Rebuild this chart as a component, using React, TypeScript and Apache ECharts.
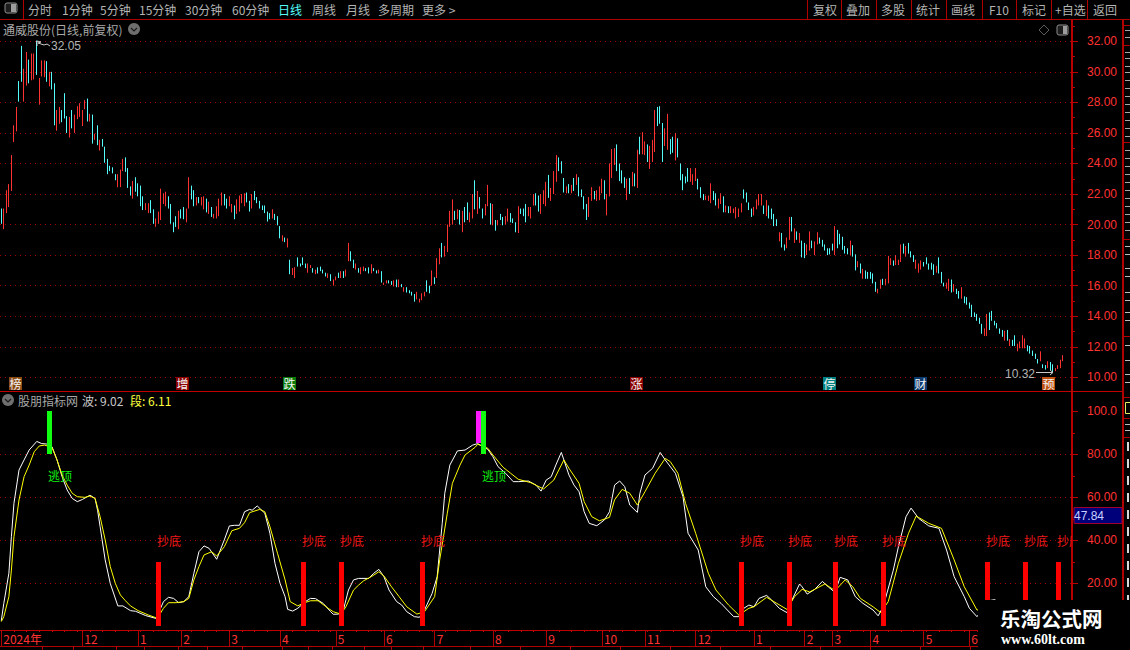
import React, { useEffect, useRef } from "react";
import * as echarts from "echarts";

// ---------- daily bars ----------
const barHigh: number[] = [
  21.05,21.05,22.25,22.65,24.55,26.5,27.7,29.4,31.7,30.2,
  31.3,30.8,31.2,31.2,32.05,29.6,30.75,30.75,30.7,30,
  30,29.25,27.5,27.7,27.5,28.6,27.1,27.05,27.5,27.2,
  27.75,27.95,27.5,28.15,28.25,27.25,27.2,25.95,26.5,25.55,
  25.6,25.1,24.3,23.85,23.75,23.3,23.3,23.6,24.3,24.4,
  23.7,22.5,22.85,23.1,22.7,22.55,21.85,21.4,21.4,21.6,
  21,20.4,20.85,22.35,22.05,22.15,21.85,21.35,20.15,20.55,
  20.9,21,21.15,21.05,23.1,22.55,22.25,21.8,21.8,21.8,
  21.85,21.7,21.5,21.15,20.7,21.2,21.7,22.1,22,21.7,
  21.85,21.35,21.25,21.65,21.9,22,22.05,22.1,21.55,22,
  22.2,21.8,21.55,21.25,21.25,20.85,20.75,21,20.7,20.55,
  19.9,19.3,19.15,19.1,17.7,17.15,17.2,17.85,17.45,17.85,
  17.45,17.45,17.35,17.15,17.05,17.2,17.25,17.05,16.85,16.8,
  16.75,16.4,16.6,16.85,16.95,16.95,17.05,18.8,18.25,17.7,
  17.45,17.15,17.2,17.25,17.15,17.2,17.4,17.15,17,17.05,
  16.95,16.2,16.35,16.35,16.3,16.35,16.4,16.4,
  16.1,15.9,15.9,15.7,15.6,15.45,15.6,15.15,15.5,15.6,
  16.35,16,17,16.55,17.8,18.45,18.8,18.6,20,20.9,
  21.65,20.9,21,20.95,20.9,21.15,21.45,20.8,22,22.9,
  22.2,21.8,21.05,21.35,22.6,21.4,21.35,20.3,20.3,20.7,
  20.5,20.55,21.05,20.75,20.4,20.15,21.2,21.05,21.05,21.35,
  21.15,21.15,22,22.05,21.9,22,22.25,22.8,23.25,22.4,
  23.5,24.55,24.4,24.15,23.05,22.5,22.65,22.6,23.05,23.3,
  23.1,22.3,21.85,21.35,21.8,22.45,22.2,22.25,22.5,23,
  22.9,22,24,24.95,25,25.25,24,23.55,23.1,23,
  23.05,23.45,23.35,24.9,25.75,26.05,25.45,25.25,25.15,25.55,
  27.5,27.7,27.75,26.65,26.3,27.25,25.6,25.75,26,25.65,
  24,23.3,23.15,23.7,23.7,23.3,23.7,23,22.45,22,
  21.9,21.9,22.7,22.2,22.05,21.7,22.05,21.85,21.25,21.2,
  21.2,21.05,21.15,21.05,21.4,22.3,22.1,21.45,21.05,21.15,
  21.65,22,22,21.25,21.6,21.25,21.05,20.7,20.35,19.5,
  19.45,18.7,19.15,20.5,20.5,19.75,19.55,19.45,
  18.95,18.8,18.7,19.55,18.95,18.9,19.5,19.15,19,18.7,
  18.45,18.45,18.75,19.9,19.65,19.4,19.2,18.6,18.45,18.95,
  18.65,18.05,17.6,17.45,17.1,17,16.9,16.9,16.8,16.25,
  15.8,16.4,16.45,16.45,17.95,17.8,17.65,18,17.7,18.7,
  18.75,18.6,18.8,18.25,18,17.7,17.45,17.65,17.55,17.85,
  17.45,17.5,17.4,17.3,17.85,16.9,16.2,16.2,16.45,16.4,
  16.1,15.8,15.65,15.9,15.3,15.25,14.9,14.75,14.25,14.15,
  13.9,13.5,13.2,14.15,14.25,14.35,13.7,13.55,13.2,13.1,
  13.05,13.1,12.5,12.45,12.75,12.2,12.35,12.75,12.55,12.1,
  12.05,11.75,11.55,11.2,11.7,10.85,10.8,11.05,11,10.85,
  10.6,10.8,11.15,11.45,
];
const barLow: number[] = [
  20.05,19.7,20.75,21.15,22.2,25.4,26.1,28.05,29.35,28.05,
  29.1,29.25,29.45,29.5,29.8,27.85,29.7,29.65,29.35,29.05,
  28.85,26.5,26.15,26.6,26.7,26.95,26,25.7,26.3,26,
  26.9,27.05,26.45,27.55,26.75,26.75,25.3,25.55,25.2,24.85,
  25.1,24.05,23.3,23.5,23.35,22.9,22.45,22.45,23.5,23.45,
  22.4,21.9,21.7,22.15,21.85,21.2,20.95,20.95,20.75,20.75,
  20.05,19.85,20.05,20.3,21.35,21.2,21.05,20.05,19.5,19.85,
  19.7,20.4,20.35,20.15,21.05,21.65,21.2,21.25,21.4,21.25,
  21,20.8,20.7,20.5,20.4,20.4,20.55,21.25,21.25,21.05,
  21.2,20.8,20.35,20.7,20.85,21.4,21.2,21.45,20.85,21.05,
  21.6,21.4,21.05,20.95,20.75,20.2,20.35,20.4,20.3,19.95,
  19.1,18.9,18.85,18.5,16.75,16.7,16.5,17.25,17.25,17.35,
  17.15,16.85,17.15,16.85,16.75,16.8,16.95,16.8,16.6,16.5,
  16.3,16,16.35,16.5,16.5,16.5,16.6,17.6,17.6,17.15,
  17.05,16.85,16.75,16.95,16.95,16.8,16.8,16.95,16.8,16.8,
  16.2,16.05,16.15,16.15,16.05,15.95,15.9,15.9,
  15.9,15.6,15.55,15.5,15.35,14.95,15.1,14.9,15.05,15.3,
  15.6,15.5,16,16.1,16.5,17.4,17.85,17.9,18.2,19.85,
  20,20.3,20.35,20,19.5,20.15,20.3,20.15,20.4,21,
  20.7,21.05,20.4,20.6,21.2,20,19.95,19.6,19.95,20.3,
  19.95,20,20.2,20.15,20.1,19.5,19.45,20.7,20.55,20.15,
  20.55,20.4,21.25,21.25,20.85,20.7,21.35,21.2,21.75,21.55,
  22,22.8,23.5,23.35,22.1,22.05,22.05,22.05,22.2,22.6,
  21.85,21.8,21,20.3,20.5,21.55,21.65,21.55,21.6,22.05,
  21.65,20.6,21.85,23.05,23.9,23.5,22.85,22.7,22.4,21.6,
  22,22.5,22.5,22.4,24.6,24.6,24.55,24.1,23.65,24.1,
  24.75,26.45,26.6,24.1,25.15,24.9,24.6,24.7,24.2,24.4,
  22.9,22.25,22.7,22.8,22.8,22.6,22.85,22.3,21.75,21.6,
  21.6,21.55,21.4,21.6,21.25,21.05,21.35,20.8,20.8,20.75,
  20.75,20.75,20.4,20.5,20.8,21.7,21.45,20.95,20.5,20.6,
  21,21.25,21.25,20.7,20.55,20.4,20.35,19.9,19.9,18.9,
  18.5,18.3,18.45,19,19.55,18.8,19,18.8,
  17.85,17.8,18,18.3,18.45,18,18.7,18.75,18.55,18.3,
  18,18.05,18.3,18,18.45,18.7,18.35,18.1,18.05,18,
  17.9,17,17.2,16.8,16.45,16.45,16.45,16.45,16.15,15.6,
  15.5,15.8,16.05,16.05,16.15,17.35,17.3,17.35,17.35,17.55,
  18.1,17.9,18.1,17.85,17.55,17.1,16.85,17.05,17.25,17.4,
  17.05,17.05,16.7,16.85,16.8,16.15,15.95,15.8,15.65,15.55,
  15.6,15.45,15.15,15.15,14.85,14.75,14.5,13.95,13.95,13.7,
  13.5,12.85,12.7,12.7,13.1,13.7,13.4,13.2,12.85,12.65,
  12.4,12.4,12.05,12.05,12.05,11.7,11.9,11.9,11.9,11.7,
  11.55,11.4,11.2,10.9,11.05,10.6,10.5,10.6,10.45,10.32,
  10.4,10.55,10.6,11.05,
];
// r = rising bar, c = falling bar
const barDir: string =
  "crrrrrrccr" + "rcrrcrrrcr" + "ccrrcccrcr" + "rrrrcrcrcr" + "ccccccrrrc" + "ccrccccrrc" +
  "crrrrrcccc" + "rccrrccrcr" + "rcrcrrrrcc" + "rrcrrrrccr" + "cccccccrcc" + "crcrcrrccc" +
  "crrcrccccr" + "crrcrcrrcc" + "rcrrccrccr" + "crrccrcr" +
  "crccccrrrr" + "ccrcrrcrrr" + "rcrcrccrrc" + "rccrrcrcrc" + "crrcccrccc" + "rrrccrrrcr" +
  "rrcccrcrcr" + "ccccrrcrrr" + "crrrrccccr" + "crcrcrrcrr" + "rcccrrccrc" + "ccccrrrccc" +
  "rrrccrrcrc" + "rrrrrccccr" + "rrrcrccccr" + "ccrrcrcr" +
  "ccrrcrrccc" + "cccrcccccr" + "ccrcrccccc" + "rrcrrrcrrr" + "crcccrrrcc" + "cccrcccrrc" +
  "rccrcccccc" + "ccrrcccccc" + "rcrccrrrrc" + "ccccrccrcc" + "rrrr";

// ---------- indicator lines: bar index / value ----------
const fastIndex: number[] = [0,1,3,4,5,7,9,11,14,16,18,20,22,24,26,28,30,32,35,37,38,39,41,43,46,48,51,53,57,61,62,64,66,68,70,72,74,76,78,80,82,85,88,90,92,94,96,98,99,101,104,106,108,110,112,113,115,117,120,122,124,127,130,131,133,135,137,139,141,145,147,149,151,153,156,158,160,163,165,167,170,172,174,175,177,180,183,186,188,192,194,196,199,202,204,208,211,213,215,217,219,221,222,224,226,228,230,232,235,238,240,242,244,246,248,251,252,254,257,260,262,266,269,271,275,278,281,284,289,291,293,295,297,299,302,304,307,310,312,315,316,318,321,324,327,329,331,334,337,340,344,346,348,352,354,357,359,362,366,370,373,376,380,382,385,390,392,395,399,409,419];
const fastValue: number[] = [2.6,10.7,24.7,41.7,57.2,72.7,77.4,82,86,85,84.8,83.6,77.4,69.6,63.4,59.5,58,59,61,59.5,54,46.4,30.9,20,9.5,9.5,7.3,7,5,3.7,6,11.5,13.5,13,11,11.5,13.8,24.7,34.7,37.4,36.3,31.2,40.2,46.7,47,47,53.3,54.4,54,56,52.6,43.3,29.3,20,13.8,7.9,7.1,8.4,11.5,13,12.9,10.7,6.8,5.6,5.7,7.6,16.9,21.6,22.3,22.3,24.7,26.5,23.1,16.9,11.5,9.9,6.8,4.5,4.2,7.6,15.3,23.1,47.9,61.9,75,81.6,82,84.3,85,82.3,78.9,74.3,71.2,67.3,67.3,67.6,65.7,62.9,68,69.6,75.5,80.9,77.4,70.4,65.7,62.6,53.3,47.9,46.8,49.5,53.3,65.7,67.6,65,56.4,53,61.9,70.4,73.5,80.9,77.4,71.2,60.3,43.3,35.5,18.4,13.8,10.7,4.5,4.5,8.4,9.9,9.1,13,14.4,12.2,8.4,6.4,12.2,19.7,18.4,15,17.2,20.9,17.7,15.8,22.8,21.6,13.8,10.7,7.6,4.9,9.1,26.2,37,51,55,50.2,46.7,45.6,35.5,23.1,13.8,8.4,4.5,12,12.4,10,5,9.02];
const slowIndex: number[] = [0,1,3,4,5,7,9,11,13,15,17,20,22,24,26,28,30,33,35,37,39,41,43,45,47,49,51,54,58,61,62,64,66,69,72,74,76,78,80,83,85,88,91,94,96,98,102,104,106,109,112,114,117,119,122,125,129,131,134,136,139,141,143,146,149,151,154,157,160,164,167,171,173,176,178,181,183,187,188,192,194,198,201,204,209,214,218,222,224,228,230,233,236,240,242,245,248,251,254,258,262,264,267,270,274,279,282,287,291,293,295,297,302,306,310,313,316,319,325,329,333,336,339,344,347,350,354,358,361,366,371,376,380,385,392,399,409,419];
const slowValue: number[] = [2.2,4.5,13.8,26.2,41.7,58.8,69.6,75,81.2,83.9,84.3,83.3,77.4,70.4,65.7,61.9,60.3,60,60.6,59.5,51,40.2,27.8,20,14.6,11.9,9.5,7.3,5.3,4,4.5,8.4,11,11,11.5,13,21.6,27.8,33.2,34.7,32.7,37,44.5,45.6,48.2,52.9,54.4,53.3,46.4,34,21.6,11.5,9.5,10.7,11.9,11.9,8.4,6.8,5.7,9.1,16.9,19.2,21.2,23.1,25.4,23.4,18.4,13.8,9.1,5.7,6.8,13.8,30.9,52.6,66.5,75,79.7,83.3,84.7,82.8,79.7,74,71.2,68.4,66.8,63.9,68,77.4,73.5,66.5,58,51,49.1,50.7,58.8,63.7,61.9,56.4,62.6,71.2,78.1,76.6,71.2,57.2,43.3,24.7,16.9,9.9,5.3,6.8,8.4,9.1,13.5,10.7,7.9,13.8,17.2,16,19.7,16.6,21.6,18.4,13,9.1,6.4,11.5,29.3,43.3,51.3,47.9,45.6,30.9,18.4,7.6,8,9.5,7,6.11];

// ---------- signals ----------
const buyIndex: number[] = [62,119,134,166,292,311,329,348,389,404,417];
const sellIndex: number[] = [19,190];
const warnIndex: number[] = [188];

// ---------- axes ----------
const categoryCount = 423;
const monthIndex: number[] = [0,32,54,71,90,110,132,151,171,194,215,237,254,274,297,317,328,343,364,382];
const monthLabel: string[] = ["2024年","12","1","2","3","4","5","6","7","8","9","10","11","12","1","2","3","4","5","6"];
const priceMajor: number[] = [10,12,14,16,18,20,22,24,26,28,30,32];
const priceMinor: number[] = [11,13,15,17,19,21,23,25,27,29,31,33];
const indMajor: number[] = [20,40,60,80];
const indTop: number[] = [100];
const indMinor: number[] = [10,30,50,70,90];

const toolLeft: [string, number, boolean][] = [
  ["分时",28,false],["1分钟",62,false],["5分钟",100,false],["15分钟",139,false],["30分钟",185,false],
  ["60分钟",232,false],["日线",278,true],["周线",312,false],["月线",346,false],["多周期",378,false],["更多 >",422,false],
];
const toolRight: [string, number][] = [
  ["复权",813],["叠加",846],["多股",881],["统计",916],["画线",951],["F10",989],["标记",1022],["+自选",1055],["返回",1093],
];
const toolDividers: number[] = [807,841,876,911,946,982,1016,1051,1087];
const tags: [string, number, string][] = [
  ["榜",9,"#8a4a14"],["增",176,"#8b0000"],["跌",283,"#0a7a0a"],["涨",630,"#8b0000"],
  ["停",823,"#008080"],["财",914,"#0a3a6e"],["预",1042,"#c0500f"],
];
const tabDividers: number[] = [42,73,116,144,178,207,242,282,308,332,364,391,423,470,520,570,620,670,720,770,820,870,920,970];
const sideRules: number[] = [25,45,142,239,336,397,418,437];
const sideRowsUpper: number[] = [30,37,52,58,66,72,80,88,96,104,112,120,128,136,150,158,166,174,182,190,198,206,214,222,230];
const sideRowsMiddle: number[] = [246,254,268,276,292,300,312,320,345,360,374,382];
const sideRowsLower: number[] = [446,463,480,497,514,531,548,565,582,599,616];

const FONT = '"Noto Sans CJK SC","Liberation Sans",sans-serif';
const NUM = '"Liberation Sans",Arial,sans-serif';
const RED = "#ff3232";
const RULE = "#b00000";
const GREY = "#b4b4b4";
const CYAN = "#54fcfc";

function txt(text: string, x: number, y: number, fill: string, size = 12, extra: any = {}) {
  return { type: "text", z: 50, style: { text, x, y, fill, font: `${size}px ${FONT}`, verticalAlign: "middle", align: "left", ...extra } };
}
function rule(x1: number, y1: number, x2: number, y2: number, stroke = RULE, w = 1, z = 40) {
  return { type: "line", z, shape: { x1, y1, x2, y2 }, style: { stroke, lineWidth: w } };
}
function chevronIcon(cx: number, cy: number) {
  return [
    { type: "circle", z: 50, shape: { cx, cy, r: 6 }, style: { fill: "#6e6e6e" } },
    { type: "polyline", z: 51, shape: { points: [[cx - 3, cy - 1], [cx, cy + 2], [cx + 3, cy - 1]] }, style: { stroke: "#1a1a1a", lineWidth: 1.2, fill: "none" } },
  ];
}

function buildGraphic() {
  const g: any[] = [];
  // toolbar
  g.push(rule(0, 19.5, 1130, 19.5));
  g.push(rule(23.5, 0, 23.5, 19));
  g.push({ type: "rect", z: 50, shape: { x: 5, y: 3, width: 12, height: 10, r: 2 }, style: { fill: "#1c1c1c", stroke: "#8c8c8c" } });
  g.push({ type: "rect", z: 51, shape: { x: 11, y: 4, width: 5, height: 8 }, style: { fill: "#9c9c9c" } });
  toolLeft.forEach(([t, x, on]) => g.push(txt(t, x, 9.5, on ? CYAN : GREY)));
  toolRight.forEach(([t, x]) => g.push(txt(t, x, 9.5, GREY)));
  toolDividers.forEach((x) => g.push(rule(x + 0.5, 0, x + 0.5, 19)));
  // upper title and icons
  g.push(txt("通威股份(日线,前复权)", 3, 29, "#a8a8a8"));
  g.push(...chevronIcon(134, 29));
  g.push({ type: "polygon", z: 50, shape: { points: [[1044, 25], [1049, 30], [1044, 35], [1039, 30]] }, style: { stroke: "#5c5c5c", fill: "none" } });
  g.push({ type: "rect", z: 50, shape: { x: 1057, y: 25, width: 11, height: 10, r: 2 }, style: { fill: "#1c1c1c", stroke: "#8c8c8c" } });
  g.push({ type: "rect", z: 51, shape: { x: 1063, y: 26, width: 4, height: 8 }, style: { fill: "#9c9c9c" } });
  // extreme price notes
  g.push({ type: "polyline", z: 50, shape: { points: [[37, 46], [37, 41], [41, 42], [38, 43], [44, 45], [47, 44], [50, 46]] }, style: { stroke: "#c8c8c8", fill: "none" } });
  g.push(txt("32.05", 51, 46, "#b4b4b4", 12, { font: `12px ${NUM}` }));
  g.push(txt("10.32", 1005, 373.5, "#b4b4b4", 12, { font: `12px ${NUM}` }));
  g.push({ type: "polyline", z: 50, shape: { points: [[1036, 372.5], [1053, 372.5], [1050, 370]] }, style: { stroke: "#c8c8c8", fill: "none" } });
  g.push({ type: "line", z: 50, shape: { x1: 1053, y1: 372.5, x2: 1050, y2: 375 }, style: { stroke: "#c8c8c8" } });
  // event tags
  tags.forEach(([t, x, c]) => {
    g.push({ type: "rect", z: 50, shape: { x, y: 377, width: 13, height: 13 }, style: { fill: c } });
    g.push(txt(t, x + 6.5, 383.5, "#f4f4f4", 12, { align: "center" }));
  });
  // panel frame
  g.push(rule(0, 391.5, 1123, 391.5, "#c00000", 1));
  g.push(rule(1123, 20, 1123, 630, "#b00000", 2));
  sideRules.forEach((y) => g.push(rule(1124, y + 0.5, 1130, y + 0.5)));
  // the clipped neighbour column: only fragments of it are in view
  sideRowsUpper.forEach((y) => g.push(rule(1125, y + 0.5, 1130, y + 0.5, "#a8a8a8")));
  sideRowsMiddle.forEach((y) => g.push(rule(1125, y + 0.5, 1130, y + 0.5, "#bcbcbc")));
  g.push({ type: "rect", z: 45, shape: { x: 1125.5, y: 402.5, width: 6, height: 11 }, style: { fill: "none", stroke: "#e8e860" } });
  g.push(rule(1125, 424.5, 1130, 424.5, "#bcbcbc"));
  g.push(rule(1125, 430.5, 1130, 430.5, "#bcbcbc"));
  sideRowsLower.forEach((y) => g.push({ type: "rect", z: 45, shape: { x: 1127, y: y - 4, width: 2, height: 9 }, style: { fill: "#d8d8d8" } }));
  // indicator title
  g.push(...chevronIcon(8, 400));
  g.push(txt("股朋指标网", 18, 400, "#a8a8a8"));
  g.push(txt("波: 9.02", 82, 400, "#c8c8c8"));
  g.push(txt("段: 6.11", 130, 400, "#ffff3c"));
  // latest value flag
  g.push({ type: "rect", z: 45, shape: { x: 1074, y: 507.5, width: 48, height: 16 }, style: { fill: "#00007a", stroke: "#a00030" } });
  g.push(txt("47.84", 1074, 515.5, "#c8d0ff", 12, { font: `12px ${NUM}` }));
  // date strip and tab row
  g.push(rule(0, 646.5, 1130, 646.5));
  tabDividers.forEach((x) => g.push(rule(x + 0.5, 647, x + 0.5, 650)));
  // watermark
  g.push({ type: "rect", z: 90, shape: { x: 978, y: 600, width: 152, height: 50 }, style: { fill: "#000" } });
  g.push({ ...txt("乐淘公式网", 1000, 618, "#ffffff", 20.5, { font: `bold 20.5px ${FONT}` }), z: 91 });
  g.push({ ...txt("www.60lt.com", 1001, 639, "#ffffff", 14, { font: 'bold 14px "Liberation Serif",serif' }), z: 91 });
  return g;
}

function signalSeries(name: string, rows: number[][], color: string, label: string, labelColor: string) {
  return {
    name, type: "custom", xAxisIndex: 1, yAxisIndex: 1, clip: true, z: 6,
    encode: { x: 0, y: [1, 2] },
    data: rows,
    renderItem: (_p: any, api: any) => {
      const idx = api.value(0);
      const top = api.coord([idx, api.value(2)]);
      const bottom = api.coord([idx, api.value(1)]);
      const left = Math.round(top[0]) - 2;
      const children: any[] = [
        { type: "rect", shape: { x: left, y: Math.round(top[1]), width: 5, height: Math.round(bottom[1] - top[1]) }, style: { fill: color } },
      ];
      if (label) {
        const at = api.coord([idx, api.value(3)]);
        children.push({ type: "text", style: { text: label, x: left + 1, y: at[1], fill: labelColor, font: `12px ${FONT}`, verticalAlign: "middle", align: "left" } });
      }
      return { type: "group", children };
    },
  };
}

function valueAxis(grid: number, min: number, max: number, ticks: number[], len: number, labels: number[] | null, split: number[] | null, fmt: (v: number) => string, line: boolean) {
  return {
    type: "value", gridIndex: grid, position: "right", min, max, scale: true,
    axisLine: { show: line, lineStyle: { color: "#b80000", width: 2 } },
    axisTick: { show: true, length: len, customValues: ticks, lineStyle: { color: "#b80000" } },
    axisLabel: labels ? { show: true, customValues: labels, margin: 15, color: RED, fontSize: 12, fontFamily: NUM, formatter: fmt } : { show: false },
    splitLine: split ? { show: true, lineStyle: { color: "#a00000", type: [1, 4], width: 1 } } : { show: false },
  };
}

const candleData = barHigh.map((h, i) => {
  const l = barLow[i];
  return barDir[i] === "r" ? [l, h, l, h] : [h, l, l, h];
});
const categories = Array.from({ length: categoryCount }, (_, i) => String(i));
const fmt2 = (v: number) => v.toFixed(2);

export default function App() {
  const ref = useRef<HTMLDivElement>(null);
  useEffect(() => {
    document.body.style.margin = "0";
    document.body.style.background = "#000";
    const chart = echarts.init(ref.current!, undefined, { renderer: "svg" });
    chart.setOption({
      animation: false,
      backgroundColor: "#000",
      grid: [
        { left: 0, top: 20, width: 1072, height: 371, outerBoundsMode: "none" },
        { left: 0, top: 392, width: 1072, height: 238, outerBoundsMode: "none" },
      ],
      xAxis: [
        { type: "category", gridIndex: 0, data: categories, show: false },
        {
          type: "category", gridIndex: 1, data: categories, position: "bottom",
          axisLine: { onZero: false, lineStyle: { color: "#c00000", width: 1 } },
          axisTick: { show: true, alignWithLabel: true, length: 16, interval: (i: number) => monthIndex.includes(i), lineStyle: { color: "#b00000" } },
          axisLabel: {
            show: true, color: RED, fontSize: 12, fontFamily: FONT, align: "left", margin: 2, padding: [0, 0, 0, 2],
            interval: (i: number) => monthIndex.includes(i),
            formatter: (_v: string, i: number) => monthLabel[monthIndex.indexOf(i)] ?? "",
          },
          splitLine: { show: false },
        },
        {
          type: "category", gridIndex: 1, data: categories, position: "bottom",
          axisLine: { show: false, onZero: false },
          axisTick: { show: true, alignWithLabel: true, length: 2, interval: (i: number) => i % 5 === 0, lineStyle: { color: "#b00000" } },
          axisLabel: { show: false },
        },
      ],
      yAxis: [
        valueAxis(0, 9.103, 33.395, priceMajor, 6, priceMajor, priceMajor, fmt2, true),
        valueAxis(1, -1.7, 109, indMajor, 6, indMajor, indMajor, fmt2, true),
        valueAxis(0, 9.103, 33.395, priceMinor, 3, null, null, fmt2, false),
        valueAxis(1, -1.7, 109, indMinor, 3, null, null, fmt2, false),
        valueAxis(1, -1.7, 109, indTop, 6, indTop, null, (v: number) => v.toFixed(1), false),
      ],
      series: [
        {
          name: "通威股份", type: "candlestick", xAxisIndex: 0, yAxisIndex: 0, barWidth: 1, data: candleData,
          itemStyle: { color: RED, color0: CYAN, borderColor: RED, borderColor0: CYAN, borderWidth: 1 },
        },
        {
          name: "波", type: "line", xAxisIndex: 1, yAxisIndex: 1, showSymbol: false, symbol: "none", smooth: false, z: 3,
          lineStyle: { color: "#ffffff", width: 1 }, data: fastIndex.map((x, i) => [x, fastValue[i]]),
        },
        {
          name: "段", type: "line", xAxisIndex: 1, yAxisIndex: 1, showSymbol: false, symbol: "none", smooth: false, z: 4,
          lineStyle: { color: "#ffff00", width: 1 }, data: slowIndex.map((x, i) => [x, slowValue[i]]),
        },
        signalSeries("抄底", buyIndex.map((x) => [x, 0, 30, 40]), "#ff0000", "抄底", "#f01818"),
        signalSeries("预警", warnIndex.map((x) => [x, 85, 100, 0]), "#ff18ff", "", ""),
        signalSeries("逃顶", sellIndex.map((x) => [x, 80, 100, 70]), "#10ff10", "逃顶", "#10f010"),
      ],
      graphic: { elements: buildGraphic() },
    });
    return () => chart.dispose();
  }, []);
  return <div ref={ref} style={{ position: "fixed", left: 0, top: 0, width: 1130, height: 650, background: "#000" }} />;
}
